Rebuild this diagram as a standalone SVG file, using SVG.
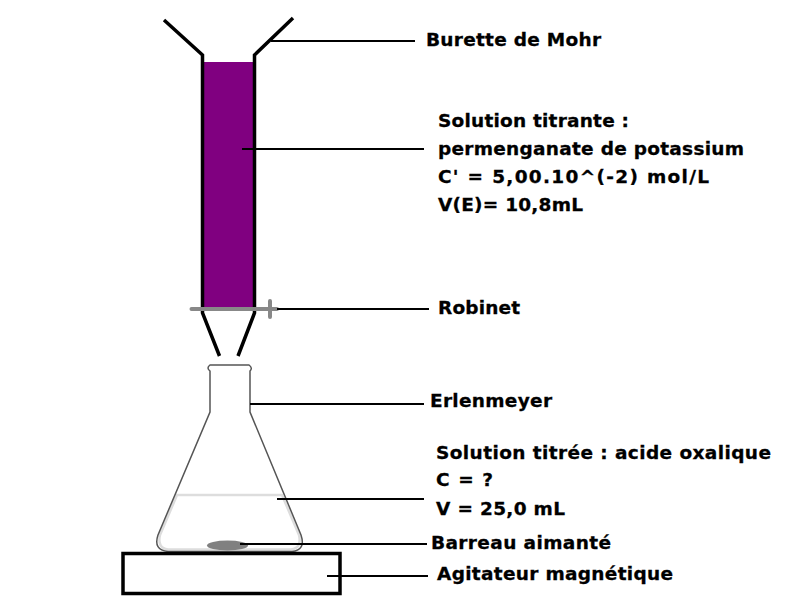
<svg xmlns="http://www.w3.org/2000/svg" width="800" height="600" viewBox="0 0 800 600">
<style>
text{font-family:"DejaVu Sans",Verdana,sans-serif;font-weight:bold;font-size:18.500px;fill:#000;stroke:#000;stroke-width:.3px}
.c{stroke:#000;stroke-width:2;fill:none}
.w{stroke:#000;stroke-width:3.500;fill:none}
.g{stroke:#888;fill:none;stroke-linecap:round}
</style>
<rect width="800" height="600" fill="#fff"/>
<g id="burette">
<rect x="203" y="62" width="51" height="247" fill="#800080"/>
<path class="w" d="M164 20L202.500 55V313L219.500 356M293 18L254.500 55V313L238 356"/>
<path class="g" d="M191.500 309H277M270 301V317" stroke-width="4"/>
</g>
<g id="erlenmeyer">
<path d="M177 495H282L299 535Q302 548 291 549.500H168Q157 548 160 535Z" fill="#fff" stroke="#ddd" stroke-width="2.500"/>
<path d="M210 365H249Q253 368 250 371V412L301 535Q306 550 292 551.500H168Q153 550 158 535L210 412V371Q206 368 210 365Z" fill="none" stroke="#555" stroke-width="1.500"/>
<ellipse cx="227.500" cy="545.500" rx="20.500" ry="5" fill="#808080"/>
</g>
<g id="agitateur"><rect x="123" y="553.500" width="217" height="40" fill="#fff" stroke="#000" stroke-width="3.500"/></g>
<g id="connectors">
<path class="c" d="M271 41H415M242 149H424M277 309H429M250 404H424M277 499H424M240 544H427M327 576H428"/>
</g>
<g id="labels">
<text x="426" y="46" textLength="175">Burette de Mohr</text>
<text x="438" y="127" textLength="191">Solution titrante :</text>
<text x="438" y="155" textLength="306">permenganate de potassium</text>
<text x="438" y="183" textLength="271">C' = 5,00.10^(-2) mol/L</text>
<text x="438" y="211" textLength="145">V(E)= 10,8mL</text>
<text x="438" y="314" textLength="82">Robinet</text>
<text x="430" y="407" textLength="122">Erlenmeyer</text>
<text x="436" y="459" textLength="335">Solution titrée : acide oxalique</text>
<text x="436" y="486" textLength="57">C = ?</text>
<text x="436" y="515" textLength="129">V = 25,0 mL</text>
<text x="431" y="549" textLength="180">Barreau aimanté</text>
<text x="437" y="580" textLength="236">Agitateur magnétique</text>
</g>
</svg>
